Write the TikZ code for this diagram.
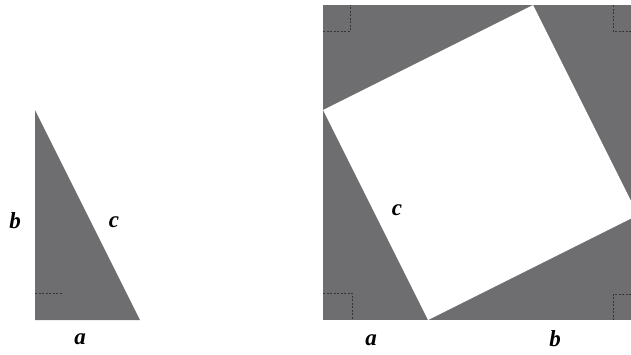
\documentclass[tikz,border=0pt]{standalone}
\usepackage{fontspec}
\setmainfont{Liberation Serif}
\begin{document}
\begin{tikzpicture}[x=1pt,y=-1pt,
  rmark/.style={draw=markgray,line width=1pt,dash pattern=on 2pt off 1.5pt},
  lbl/.style={font=\fontsize{23}{23}\selectfont\bfseries\itshape,inner sep=0pt}]
\definecolor{fillgray}{HTML}{6E6E70}
\definecolor{markgray}{HTML}{353535}
\useasboundingbox (0,0) rectangle (631,354);
% left triangle
\coordinate (T1) at (35,110);
\coordinate (T2) at (35,320);
\coordinate (T3) at (140,320);
\fill[fillgray] (T1) -- (T2) -- (T3) -- cycle;
\draw[rmark] (35,293) -- (63,293);
\node[lbl] (lb) at (15,221) {b};
\node[lbl] (lc) at (114,222) {c};
\node[lbl] (la) at (80,339) {a};
% big square
\begin{scope}
\clip (0,0) rectangle (631,354);
\coordinate (S1) at (323,5);
\coordinate (S2) at (638,5);
\coordinate (S3) at (638,320);
\coordinate (S4) at (323,320);
\fill[fillgray] (S1) rectangle (S3);
\coordinate (W1) at (323,110);
\coordinate (W2) at (533,5);
\coordinate (W3) at (638,215);
\coordinate (W4) at (428,320);
\fill[white] (W1) -- (W2) -- (W3) -- (W4) -- cycle;
\draw[rmark] (323,31) -- (350,31) -- (350,5);
\draw[rmark] (631,31) -- (613,31) -- (613,5);
\draw[rmark] (323,293) -- (352,293) -- (352,320);
\draw[rmark] (631,294) -- (613,294) -- (613,320);
\end{scope}
\node[lbl] (rc) at (397,210) {c};
\node[lbl] (ra) at (371,340) {a};
\node[lbl] (rb) at (555,339) {b};
\end{tikzpicture}
\end{document}
